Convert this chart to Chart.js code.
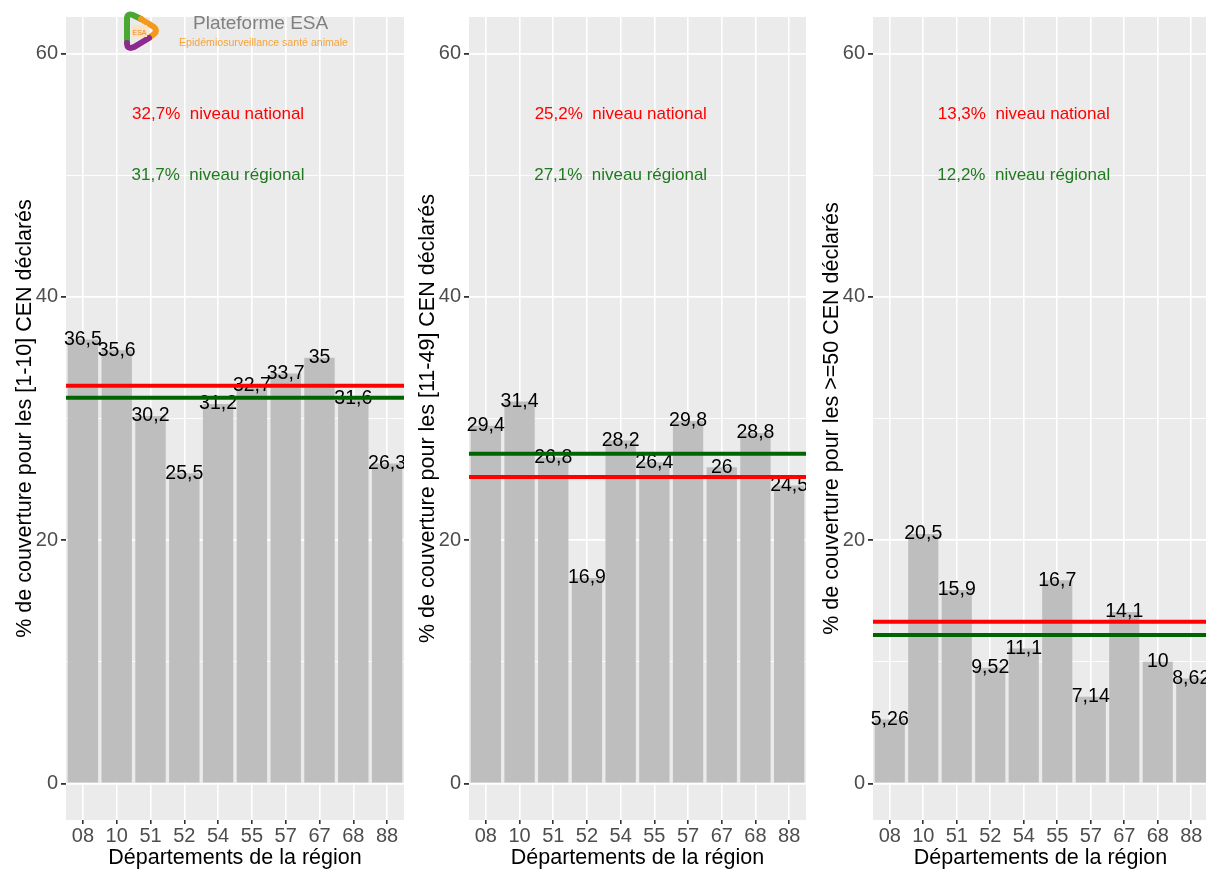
<!DOCTYPE html>
<html lang="fr">
<head>
<meta charset="UTF-8">
<title>Couverture CEN</title>
<style>
  html, body { margin: 0; padding: 0; background: #fff; overflow: hidden; }
  body { width: 1206px; height: 869px; position: relative; font-family: "Liberation Sans", Arial, sans-serif; }
  .panneau { position: absolute; top: 0; height: 869px; }
  #p1 { left: 0; width: 404px; }
  #p2 { left: 403px; width: 403px; }
  #p3 { left: 807px; width: 401px; }
  .logo { position: absolute; left: 118px; top: 10px; width: 240px; height: 44px; }
  .logo svg { position: absolute; left: 4px; top: 0; }
  .logo .nom { position: absolute; left: 75px; top: 2px; font-size: 19px; line-height: 22px; color: #808080; }
  .logo .sous { position: absolute; left: 61px; top: 26px; font-size: 10.6px; line-height: 12px; color: #f5a43a; white-space: nowrap; }
</style>
</head>
<body>
  <div class="panneau" id="p1"><canvas id="graphique1"></canvas></div>
  <div class="panneau" id="p2"><canvas id="graphique2"></canvas></div>
  <div class="panneau" id="p3"><canvas id="graphique3"></canvas></div>

  <div class="logo">
    <svg width="38" height="42" viewBox="0 0 38 42">
      <path d="M5,32 L5,9 Q5,3 11,5 L19,9" fill="none" stroke="#4aa832" stroke-width="6" stroke-linecap="round"/>
      <path d="M19,9 L32,17 Q36,21 32,24 L27,28" fill="none" stroke="#f39a1e" stroke-width="6" stroke-linecap="round"/>
      <path d="M27,28 L12,37 Q5,40 5,33" fill="none" stroke="#8e2a8f" stroke-width="6" stroke-linecap="round"/>
      <rect x="10" y="15" width="15" height="12" fill="#fbe3c0"/>
      <text x="17.5" y="24.5" font-size="7" text-anchor="middle" fill="#e8891a" font-family="Liberation Sans, Arial">ESA</text>
    </svg>
    <div class="nom">Plateforme ESA</div>
    <div class="sous">Epidémiosurveillance santé animale</div>
  </div>

<script src="https://cdn.jsdelivr.net/npm/chart.js"></script>
<script>

// departements de la region
var departements = ['08', '10', '51', '52', '54', '55', '57', '67', '68', '88'];

// % de couverture par classe de CEN declares
var couv_1_10 = [36.5, 35.6, 30.2, 25.5, 31.2, 32.7, 33.7, 35, 31.6, 26.3];
var couv_11_49 = [29.4, 31.4, 26.8, 16.9, 28.2, 26.4, 29.8, 26, 28.8, 24.5];
var couv_50 = [5.26, 20.5, 15.9, 9.52, 11.1, 16.7, 7.14, 14.1, 10, 8.62];

// niveaux de reference
var niveau_national = [32.7, 25.2, 13.3];
var niveau_regional = [31.7, 27.1, 12.2];

var titres_y = [
  '% de couverture pour les [1-10] CEN déclarés',
  '% de couverture pour les [11-49] CEN déclarés',
  '% de couverture pour les >=50 CEN déclarés'
];

var ticks_y = [0, 10, 20, 30, 40, 50, 60];

function virgule(v) {
  return String(v).replace('.', ',');
}

// fond gris du panneau
var fond = {
  id: 'fond',
  beforeDraw(chart) {
    const a = chart.chartArea;
    const ctx = chart.ctx;
    ctx.save();
    ctx.fillStyle = '#EBEBEB';
    ctx.fillRect(a.left, a.top, a.right - a.left, a.bottom - a.top);
    ctx.restore();
  }
};

// etiquettes, lignes et textes de niveau
var extras = {
  id: 'extras',
  afterDatasetsDraw(chart) {
    const ctx = chart.ctx;
    const a = chart.chartArea;
    const y = chart.scales.y;
    const x = chart.scales.x;
    const ds = chart.data.datasets[0];
    const meta = chart.getDatasetMeta(0);
    const opt = chart.options.plugins.extras;

    ctx.save();
    ctx.font = '19.5px "Liberation Sans", Arial, sans-serif';
    ctx.fillStyle = '#000';
    ctx.textAlign = 'center';
    ctx.textBaseline = 'middle';
    meta.data.forEach(function (bar, i) {
      ctx.fillText(virgule(ds.data[i]), bar.x, y.getPixelForValue(ds.data[i]));
    });

    // lignes national / regional
    ctx.lineWidth = 4;
    ctx.strokeStyle = '#FF0000';
    ctx.beginPath();
    ctx.moveTo(a.left, y.getPixelForValue(opt.national));
    ctx.lineTo(a.right, y.getPixelForValue(opt.national));
    ctx.stroke();
    ctx.strokeStyle = '#006400';
    ctx.beginPath();
    ctx.moveTo(a.left, y.getPixelForValue(opt.regional));
    ctx.lineTo(a.right, y.getPixelForValue(opt.regional));
    ctx.stroke();

    ctx.font = '17px "Liberation Sans", Arial, sans-serif';
    ctx.fillStyle = '#FF0000';
    ctx.fillText(virgule(opt.national) + '%  niveau national', x.getPixelForValue(4), y.getPixelForValue(55));
    ctx.fillStyle = '#1f7a1f';
    ctx.fillText(virgule(opt.regional) + '%  niveau régional', x.getPixelForValue(4), y.getPixelForValue(50));
    ctx.restore();
  }
};

function creer_graphique(id, valeurs, nat, reg, titre) {
  const ctx = document.getElementById(id);
  new Chart(ctx, {
    type: 'bar',
    data: {
      labels: departements,
      datasets: [{
        data: valeurs,
        backgroundColor: '#BEBEBE',
        categoryPercentage: 0.9,
        barPercentage: 1
      }]
    },
    options: {
      responsive: true,
      maintainAspectRatio: false,
      animation: false,
      layout: { padding: { top: 17, right: 0, left: 0, bottom: 0 } },
      scales: {
        x: {
          grid: {
            offset: false,
            color: '#FFFFFF',
            lineWidth: 1.6,
            tickColor: '#333333',
            tickLength: 4
          },
          border: { display: false },
          ticks: {
            color: '#4D4D4D',
            font: { size: 20, family: '"Liberation Sans", Arial, sans-serif' },
            padding: 0,
            autoSkip: false,
            maxRotation: 0
          },
          title: {
            display: true,
            text: 'Départements de la région',
            color: '#000',
            font: { size: 21.5, lineHeight: 1, family: '"Liberation Sans", Arial, sans-serif' },
            padding: { top: 0, bottom: 0 }
          },
          afterFit: function (s) { s.height = 49; }
        },
        y: {
          min: -3,
          max: 63,
          afterBuildTicks: function (s) {
            s.ticks = ticks_y.map(function (v) { return { value: v }; });
          },
          grid: {
            color: '#FFFFFF',
            lineWidth: function (c) { return c.tick && c.tick.value % 20 === 0 ? 1.8 : 0.9; },
            tickColor: function (c) { return c.tick && c.tick.value % 20 === 0 ? '#333333' : 'rgba(0,0,0,0)'; },
            tickLength: 5
          },
          border: { display: false },
          ticks: {
            color: '#4D4D4D',
            font: { size: 20, family: '"Liberation Sans", Arial, sans-serif' },
            padding: 3,
            callback: function (v) { return v % 20 === 0 ? v : ''; }
          },
          title: {
            display: true,
            text: titre,
            color: '#000',
            font: { size: 21.5, family: '"Liberation Sans", Arial, sans-serif' },
            padding: { top: 12, bottom: 0 }
          },
          afterFit: function (s) { s.width = 66; }
        }
      },
      plugins: {
        legend: { display: false },
        tooltip: { enabled: false },
        extras: { national: nat, regional: reg }
      }
    },
    plugins: [fond, extras]
  });
}

creer_graphique('graphique1', couv_1_10, niveau_national[0], niveau_regional[0], titres_y[0]);
creer_graphique('graphique2', couv_11_49, niveau_national[1], niveau_regional[1], titres_y[1]);
creer_graphique('graphique3', couv_50, niveau_national[2], niveau_regional[2], titres_y[2]);

</script>
</body>
</html>
